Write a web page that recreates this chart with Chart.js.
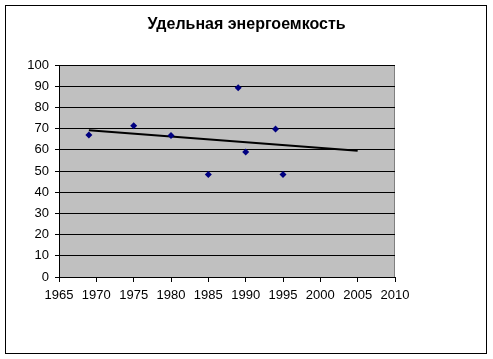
<!DOCTYPE html>
<html>
<head>
<meta charset="utf-8">
<script src="https://cdn.jsdelivr.net/npm/chart.js"></script>
<style>
  html, body { margin: 0; padding: 0; background: #fff; }
  #wrap { width: 493px; height: 359px; position: relative; }
</style>
</head>
<body>
<div id="wrap"><canvas id="myChart" width="493" height="359"></canvas></div>
<script>
// data
const years = [1969, 1975, 1980, 1985, 1989, 1990, 1994, 1995];
const values = [67, 71.4, 66.7, 48.3, 89.3, 59, 69.8, 48.3];
// trend line ends (linear trend, forecast to 2005)
const trendYears = [1969, 2005];
const trendValues = [69.2, 59.5];
const titleText = "Удельная энергоемкость";

const font = "'Liberation Sans', Arial, sans-serif";

// gray plot area, outer frame and the title centred on the whole picture
const frame = {
  id: "frame",
  beforeDraw(chart) {
    const { ctx, chartArea: a } = chart;
    ctx.save();
    ctx.fillStyle = "#fff";
    ctx.fillRect(0, 0, chart.width, chart.height);
    ctx.strokeStyle = "#000";
    ctx.lineWidth = 1;
    ctx.strokeRect(5.5, 5.5, 481, 348);
    ctx.fillStyle = "#c0c0c0";
    ctx.fillRect(a.left, a.top, a.right - a.left, a.bottom - a.top);
    ctx.strokeStyle = "#808080";
    ctx.strokeRect(a.left + 0.5, a.top + 0.5, a.right - a.left - 1, a.bottom - a.top);
    ctx.fillStyle = "#000";
    ctx.font = "bold 16px " + font;
    ctx.textAlign = "center";
    ctx.textBaseline = "middle";
    ctx.fillText(titleText, chart.width / 2, 25);
    ctx.restore();
  },
};

const ctx = document.getElementById("myChart");
new Chart(ctx, {
  type: "scatter",
  data: {
    datasets: [
      {
        label: "points",
        data: years.map((y, i) => ({ x: y, y: values[i] })),
        pointStyle: "rectRot",
        pointRadius: 3.5,
        pointBackgroundColor: "#000080",
        pointBorderColor: "#000080",
        pointBorderWidth: 0,
        showLine: false,
      },
      {
        label: "trend",
        data: trendYears.map((y, i) => ({ x: y, y: trendValues[i] })),
        showLine: true,
        borderColor: "#000",
        borderWidth: 2,
        pointRadius: 0,
      },
    ],
  },
  options: {
    responsive: false,
    animation: false,
    layout: { padding: { left: 9, right: 98, top: 65, bottom: 52 } },
    plugins: {
      legend: { display: false },
      tooltip: { enabled: false },
      title: { display: false },
    },
    scales: {
      x: {
        type: "linear",
        min: 1965,
        max: 2010,
        ticks: { stepSize: 5, color: "#000", font: { family: font, size: 13 }, maxRotation: 0, padding: 6, callback: (v) => v },
        grid: { drawOnChartArea: false, drawTicks: true, tickLength: 5, color: "#000" },
        border: { display: true, color: "#000", width: 1 },
        afterFit(scale) { scale.height = 30; },
      },
      y: {
        min: 0,
        max: 100,
        ticks: { stepSize: 10, color: "#000", font: { family: font, size: 13 }, padding: 6 },
        grid: { color: "#000", lineWidth: 1, drawTicks: true, tickLength: 4 },
        border: { display: true, color: "#000", width: 1 },
        afterFit(scale) { scale.width = 50; },
      },
    },
  },
  plugins: [frame],
});
</script>
</body>
</html>
